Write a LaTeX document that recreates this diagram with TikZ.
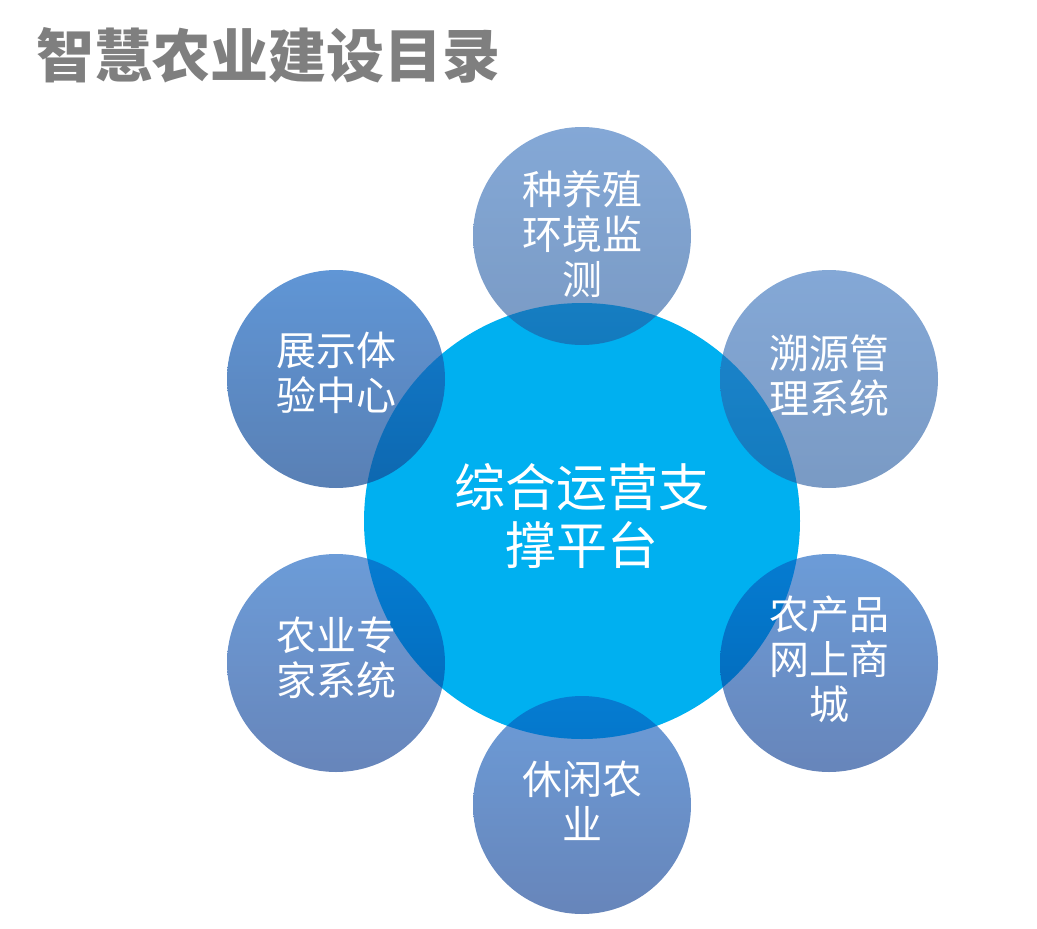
\documentclass[tikz,border=0pt]{standalone}
\usepackage{fontspec}
\newfontfamily\cjk{Noto Sans CJK SC}
\definecolor{cyanc}{HTML}{00B0F0}
\definecolor{titlegray}{HTML}{7F7F7F}
\definecolor{aTop}{RGB}{50,110,187}
\definecolor{aBot}{RGB}{33,87,157}
\definecolor{bTop}{RGB}{28,105,196}
\definecolor{bBot}{RGB}{19,74,149}
\definecolor{cTop}{RGB}{10,90,190}
\definecolor{cBot}{RGB}{2,52,140}
\begin{document}
\begin{tikzpicture}[x=1pt,y=-1pt,
  ring/.style={circle, minimum size=218pt, inner sep=0pt, draw=none},
  ringA/.style={ring, top color=aTop, bottom color=aBot, fill opacity=0.6},
  ringB/.style={ring, top color=bTop, bottom color=bBot, fill opacity=0.7},
  ringC/.style={ring, top color=cTop, bottom color=cBot, fill opacity=0.6},
  lbl/.style={text=white, align=center, inner sep=0pt, font=\cjk\fontsize{40}{45}\selectfont},
  hub/.style={circle, minimum size=436pt, inner sep=0pt, fill=cyanc, draw=none},
  hubtxt/.style={text=white, align=center, inner sep=0pt, font=\cjk\fontsize{51}{58}\selectfont},
]
\useasboundingbox (0,0) rectangle (1037,929);
\node[anchor=west, text=titlegray, inner sep=0pt, font=\cjk\bfseries\fontsize{58}{58}\selectfont] (title) at (36,55) {智慧农业建设目录};
\node[hub] (hub) at (582,521) {};
\node[ringA] (top) at (582,236) {};
\node[ringA] (ur) at (829,379) {};
\node[ringC] (lr) at (829,663) {};
\node[ringC] (bot) at (582,805) {};
\node[ringC] (ll) at (336,663) {};
\node[ringB] (ul) at (336,379) {};
\node[hubtxt] (hubt) at (582,516) {综合运营支\\撑平台};
\node[lbl] (topt) at (582,234) {种养殖\\环境监\\测};
\node[lbl] (urt) at (829,376) {溯源管\\理系统};
\node[lbl] (lrt) at (829,659) {农产品\\网上商\\城};
\node[lbl] (bott) at (582,801) {休闲农\\业};
\node[lbl] (llt) at (336,658) {农业专\\家系统};
\node[lbl] (ult) at (336,373) {展示体\\验中心};
\end{tikzpicture}
\end{document}
